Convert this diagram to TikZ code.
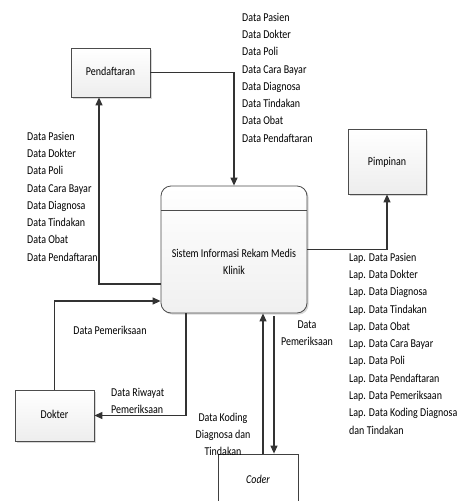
\documentclass[tikz,border=0pt]{standalone}
\usepackage{fontspec}
\usepackage{graphicx}
\setmainfont{Carlito}
\usetikzlibrary{arrows.meta,shadows}
\newcommand{\stl}[1]{\scalebox{1}[1.2]{\begin{tabular}{@{}l@{}}#1\end{tabular}}}
\newcommand{\stc}[1]{\scalebox{1}[1.2]{\begin{tabular}{@{}c@{}}#1\end{tabular}}}
\begin{document}
\begin{tikzpicture}[x=1pt,y=-1pt,
  every node/.style={font=\fontsize{10}{14.4}\selectfont},
  ent/.style={draw=black!70, line width=0.8pt, top color=white, bottom color=gray!14,
    drop shadow={shadow xshift=1.6pt, shadow yshift=-1.6pt, fill=gray!45, opacity=0.7},
    inner sep=0pt},
  proc/.style={draw=black!70, line width=0.8pt, rounded corners=10pt, top color=white, bottom color=gray!12,
    drop shadow={shadow xshift=1.6pt, shadow yshift=-1.6pt, fill=gray!45, opacity=0.7},
    minimum width=146pt, minimum height=127pt, inner sep=0pt},
  flow/.style={draw=black!80, line width=1.2pt, -{Triangle[length=8pt,width=7pt]}},
  lbl/.style={inner sep=0pt, anchor=north west},
  lblc/.style={inner sep=0pt, anchor=north},
]
\useasboundingbox (0,0) rectangle (460,501);
\clip (0,0) rectangle (460,501);

% entities
\node[ent, minimum width=79pt, minimum height=49pt] (pend) at (110.5,72.5) {};
\node (pendtxt) at (110.5,72.5) {\stc{Pendaftaran}};
\node[ent, minimum width=78pt, minimum height=65pt] (pimp) at (387,161.5) {};
\node (pimptxt) at (387,162) {\stc{Pimpinan}};
\node[ent, minimum width=79pt, minimum height=51pt] (dok) at (54.5,415.5) {};
\node (doktxt) at (54.5,415.5) {\stc{Dokter}};
\node[draw=black!75, line width=0.8pt, fill=white, minimum width=80pt, minimum height=60pt, inner sep=0pt] (coder) at (258,484) {};
\node (codertxt) at (258,480) {\stc{\itshape Coder}};

% process
\node[proc] (proc) at (234,249.5) {};
\draw[draw=black!70, line width=0.8pt] ([yshift=-25pt]proc.north west) -- ([yshift=-25pt]proc.north east);
\node[lblc] (proctxt) at (234,245) {\stc{Sistem Informasi Rekam Medis\\Klinik}};

% flows
\draw[flow] (pend.east) -| (proc.north);
\draw[flow] ([yshift=-34.5pt]proc.west) -| ([xshift=-11.5pt]pend.south);
\draw[flow] (proc.east) -| (pimp.south);
\draw[flow] (dok.north) |- ([yshift=-51.5pt]proc.west);
\draw[flow] ([xshift=-48pt]proc.south) |- (dok.east);
\coordinate (cu) at ([xshift=5pt]coder.north);
\coordinate (cd) at ([xshift=16pt]coder.north);
\draw[flow] (cu) -- (cu |- proc.south);
\draw[flow] ([yshift=-3pt]cd |- proc.south) -- (cd);

% labels
\node[lbl] (ltop) at (242,9) {\stl{Data Pasien\\Data Dokter\\Data Poli\\Data Cara Bayar\\Data Diagnosa\\Data Tindakan\\Data Obat\\Data Pendaftaran}};
\node[lbl] (lleft) at (27,128) {\stl{Data Pasien\\Data Dokter\\Data Poli\\Data Cara Bayar\\Data Diagnosa\\Data Tindakan\\Data Obat\\Data Pendaftaran}};
\node[lbl] (llap) at (349,249) {\stl{Lap. Data Pasien\\Lap. Data Dokter\\Lap. Data Diagnosa\\Lap. Data Tindakan\\Lap. Data Obat\\Lap. Data Cara Bayar\\Lap. Data Poli\\Lap. Data Pendaftaran\\Lap. Data Pemeriksaan\\Lap. Data Koding Diagnosa\\dan Tindakan}};
\node[lblc] (lpem) at (110,322) {\stc{Data Pemeriksaan}};
\node[lbl] (lriw) at (111,384) {\stl{Data Riwayat\\Pemeriksaan}};
\node[lblc] (lpem2) at (307,316) {\stc{Data\\Pemeriksaan}};
\node[lblc] (lkod) at (223,409) {\stc{Data Koding\\Diagnosa dan\\Tindakan}};
\end{tikzpicture}
\end{document}
